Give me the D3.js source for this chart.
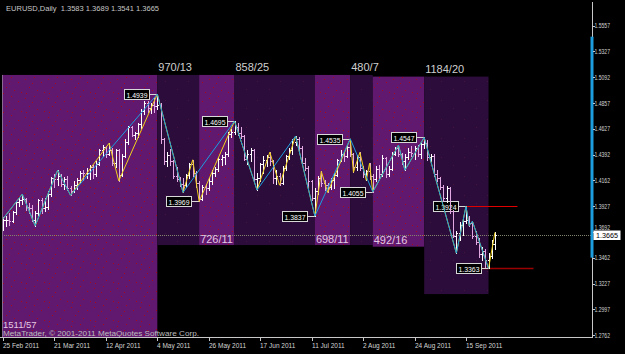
<!DOCTYPE html>
<html>
<head>
<meta charset="utf-8">
<script src="https://cdn.jsdelivr.net/npm/d3@7/dist/d3.min.js"></script>
<style>
  html, body { margin: 0; padding: 0; background: #000; }
  svg { display: block; }
  text { font-family: "Liberation Sans", Arial, sans-serif; }
</style>
</head>
<body>
<svg id="chart" width="625" height="354"></svg>
<script>
// daily bars EURUSD, 25 Feb 2011 onwards: open, high, low, close
var bars = [
  [1.3760,1.3830,1.3712,1.3800],[1.3800,1.3835,1.3745,1.3805],[1.3805,1.3860,1.3760,1.3795],[1.3795,1.3880,1.3780,1.3870],
  [1.3870,1.3975,1.3855,1.3960],[1.3960,1.4000,1.3925,1.3985],[1.3985,1.4035,1.3945,1.3990],[1.3990,1.4000,1.3895,1.3915],
  [1.3915,1.3955,1.3860,1.3910],[1.3910,1.3940,1.3790,1.3800],[1.3800,1.3880,1.3750,1.3860],[1.3860,1.3995,1.3850,1.3985],
  [1.3985,1.4000,1.3860,1.3910],[1.3910,1.4000,1.3880,1.3920],[1.3920,1.4060,1.3900,1.4040],[1.4040,1.4190,1.4020,1.4180],
  [1.4180,1.4215,1.4100,1.4170],[1.4170,1.4250,1.4120,1.4200],[1.4200,1.4215,1.4110,1.4130],[1.4130,1.4190,1.4080,1.4170],
  [1.4170,1.4200,1.4070,1.4090],[1.4090,1.4110,1.4025,1.4060],[1.4060,1.4150,1.4050,1.4120],[1.4120,1.4180,1.4080,1.4165],
  [1.4165,1.4240,1.4140,1.4230],[1.4230,1.4250,1.4160,1.4225],[1.4225,1.4270,1.4185,1.4230],[1.4230,1.4300,1.4170,1.4280],
  [1.4280,1.4300,1.4180,1.4220],[1.4220,1.4330,1.4200,1.4310],[1.4310,1.4440,1.4300,1.4430],[1.4430,1.4480,1.4380,1.4465],
  [1.4465,1.4470,1.4370,1.4400],[1.4400,1.4495,1.4390,1.4430],[1.4430,1.4450,1.4300,1.4320],[1.4320,1.4440,1.4280,1.4430],
  [1.4430,1.4440,1.4155,1.4210],[1.4210,1.4400,1.4200,1.4380],[1.4380,1.4530,1.4370,1.4510],[1.4510,1.4650,1.4490,1.4640],
  [1.4640,1.4650,1.4560,1.4570],[1.4570,1.4600,1.4530,1.4585],[1.4585,1.4680,1.4550,1.4665],[1.4665,1.4800,1.4630,1.4790],
  [1.4790,1.4880,1.4760,1.4860],[1.4860,1.4880,1.4780,1.4810],[1.4810,1.4860,1.4770,1.4840],[1.4840,1.4900,1.4780,1.4830],
  [1.4830,1.4939,1.4800,1.4840],[1.4840,1.4860,1.4500,1.4530],[1.4530,1.4545,1.4310,1.4330],[1.4330,1.4420,1.4290,1.4390],
  [1.4390,1.4440,1.4300,1.4330],[1.4330,1.4340,1.4180,1.4200],[1.4200,1.4280,1.4150,1.4170],[1.4170,1.4190,1.4110,1.4130],
  [1.4130,1.4180,1.4050,1.4120],[1.4120,1.4220,1.4100,1.4210],[1.4210,1.4320,1.4180,1.4310],[1.4310,1.4345,1.4200,1.4230],
  [1.4230,1.4240,1.4100,1.4140],[1.4140,1.4150,1.3969,1.3990],[1.3990,1.4120,1.3980,1.4100],[1.4100,1.4130,1.4040,1.4090],
  [1.4090,1.4180,1.4070,1.4150],[1.4150,1.4250,1.4130,1.4230],[1.4230,1.4280,1.4200,1.4260],[1.4260,1.4370,1.4240,1.4350],
  [1.4350,1.4390,1.4300,1.4370],[1.4370,1.4420,1.4310,1.4400],[1.4400,1.4600,1.4380,1.4580],[1.4580,1.4620,1.4550,1.4600],
  [1.4600,1.4695,1.4580,1.4640],[1.4640,1.4680,1.4570,1.4590],[1.4590,1.4640,1.4540,1.4560],[1.4560,1.4570,1.4340,1.4350],
  [1.4350,1.4430,1.4310,1.4400],[1.4400,1.4450,1.4330,1.4430],[1.4430,1.4440,1.4150,1.4170],[1.4170,1.4230,1.4072,1.4180],
  [1.4180,1.4320,1.4150,1.4310],[1.4310,1.4380,1.4230,1.4340],[1.4340,1.4390,1.4290,1.4370],[1.4370,1.4414,1.4300,1.4330],
  [1.4330,1.4340,1.4140,1.4180],[1.4180,1.4250,1.4130,1.4200],[1.4200,1.4230,1.4116,1.4140],[1.4140,1.4290,1.4130,1.4270],
  [1.4270,1.4390,1.4250,1.4380],[1.4380,1.4450,1.4350,1.4430],[1.4430,1.4530,1.4400,1.4510],[1.4510,1.4560,1.4480,1.4530],
  [1.4530,1.4550,1.4430,1.4450],[1.4450,1.4470,1.4300,1.4320],[1.4320,1.4360,1.4250,1.4270],[1.4270,1.4290,1.4100,1.4150],
  [1.4150,1.4160,1.3980,1.4000],[1.4000,1.4090,1.3837,1.4060],[1.4060,1.4200,1.4040,1.4180],[1.4180,1.4240,1.4110,1.4140],
  [1.4140,1.4160,1.4070,1.4120],[1.4120,1.4140,1.4050,1.4100],[1.4100,1.4180,1.4080,1.4160],[1.4160,1.4230,1.4090,1.4210],
  [1.4210,1.4350,1.4200,1.4340],[1.4340,1.4430,1.4330,1.4400],[1.4400,1.4420,1.4330,1.4380],[1.4380,1.4480,1.4370,1.4460],
  [1.4460,1.4535,1.4380,1.4400],[1.4400,1.4410,1.4232,1.4280],[1.4280,1.4390,1.4250,1.4370],[1.4370,1.4413,1.4250,1.4270],
  [1.4270,1.4290,1.4190,1.4220],[1.4220,1.4250,1.4160,1.4240],[1.4240,1.4314,1.4170,1.4200],[1.4200,1.4220,1.4055,1.4170],
  [1.4170,1.4290,1.4150,1.4260],[1.4260,1.4300,1.4180,1.4220],[1.4220,1.4390,1.4200,1.4360],[1.4360,1.4370,1.4190,1.4220],
  [1.4220,1.4290,1.4200,1.4260],[1.4260,1.4420,1.4250,1.4400],[1.4400,1.4460,1.4390,1.4450],[1.4450,1.4478,1.4380,1.4400],
  [1.4400,1.4410,1.4310,1.4330],[1.4330,1.4400,1.4252,1.4370],[1.4370,1.4450,1.4350,1.4420],[1.4420,1.4470,1.4380,1.4410],
  [1.4410,1.4470,1.4350,1.4450],[1.4450,1.4480,1.4380,1.4400],[1.4400,1.4500,1.4360,1.4490],[1.4490,1.4547,1.4450,1.4500],
  [1.4500,1.4520,1.4340,1.4370],[1.4370,1.4400,1.4330,1.4380],[1.4380,1.4400,1.4200,1.4220],[1.4220,1.4250,1.4150,1.4180],
  [1.4180,1.4190,1.4080,1.4100],[1.4100,1.4120,1.3970,1.4000],[1.4000,1.4110,1.3960,1.4090],[1.4090,1.4100,1.3860,1.3880],
  [1.3880,1.3890,1.3650,1.3660],[1.3660,1.3700,1.3502,1.3680],[1.3680,1.3780,1.3620,1.3760],[1.3760,1.3820,1.3670,1.3790],
  [1.3790,1.3924,1.3770,1.3800],[1.3800,1.3840,1.3750,1.3770],[1.3770,1.3790,1.3640,1.3660],[1.3660,1.3700,1.3580,1.3600],
  [1.3600,1.3640,1.3470,1.3490],[1.3490,1.3560,1.3440,1.3520],[1.3520,1.3540,1.3380,1.3440],[1.3440,1.3500,1.3363,1.3480],
  [1.3480,1.3620,1.3460,1.3583],[1.3583,1.3689,1.3541,1.3665]
];

// zigzag pivots: [bar index, price]
var majorZigzag = [[0,1.3812],[6,1.4035],[10,1.3750],[17,1.4250],[21,1.4025],[48,1.4939],[56,1.4050],[72,1.4695],
  [79,1.4072],[91,1.4560],[97,1.3837],[108,1.4535],[115,1.4055],[123,1.4478],[125,1.4252],[131,1.4547],
  [141,1.3502],[144,1.3924],[145,1.3750],[146,1.3790],[151,1.3363]];
var minorZigzag = [[0,1.3812],[6,1.4035],[10,1.3750],[17,1.4250],[21,1.4025],[33,1.4495],[36,1.4155],[48,1.4939],
  [56,1.4050],[59,1.4345],[61,1.3969],[72,1.4695],[79,1.4072],[83,1.4414],[86,1.4116],[91,1.4560],[97,1.3837],
  [99,1.4240],[101,1.4050],[108,1.4535],[109,1.4232],[111,1.4413],[113,1.4160],[114,1.4314],[115,1.4055],
  [123,1.4478],[125,1.4252],[131,1.4547],[141,1.3502],[144,1.3924],[145,1.3750],[146,1.3790],[151,1.3363],[153,1.3689]];

// swing price tags
var tagIndex = [48, 61, 72, 97, 108, 115, 131, 144, 151];
var tagPrice = [1.4939, 1.3969, 1.4695, 1.3837, 1.4535, 1.4055, 1.4547, 1.3924, 1.3363];

// wave boxes (bar index from/to, price top/bottom, label)
var waveFrom   = [-9, 48, 61, 72, 97, 108, 115, 131];
var waveTo     = [48, 61, 72, 97, 108, 115, 131, 151];
var waveTop    = [1.5112, 1.5112, 1.5112, 1.5112, 1.5112, 1.5112, 1.5097, 1.5097];
var waveBottom = [1.2700, 1.3575, 1.3575, 1.3575, 1.3575, 1.3575, 1.3560, 1.3132];
var waveText   = ["1511/57", "970/13", "726/11", "858/25", "698/11", "480/7", "492/16", "1184/20"];

// level lines [from bar, to bar, price]
var levels = [[144, 160, 1.3924], [149, 165, 1.3363]];
var bidPrice = 1.3665;
var rangeBar = [1.5458, 1.3461];

var priceTicks = [1.5557, 1.5327, 1.5092, 1.4857, 1.4627, 1.4392, 1.4162, 1.3927, 1.3692, 1.3462, 1.3227, 1.2997, 1.2762];
var dateTickIndex = [0, 16, 32, 48, 64, 80, 96, 112, 128, 144];
var dateTickText = ["25 Feb 2011", "21 Mar 2011", "12 Apr 2011", "4 May 2011", "26 May 2011",
  "17 Jun 2011", "11 Jul 2011", "2 Aug 2011", "24 Aug 2011", "15 Sep 2011"];

var svg = d3.select("#chart"),
    plotLeft = 2, plotRight = 592, plotTop = 2, plotBottom = 337;

var x = d3.scaleLinear().domain([0, 144]).range([3, 466]);
var y = d3.scaleLinear().domain([1.2762, 1.5557]).range([335, 25.7]);

svg.append("rect").attr("width", 625).attr("height", 354).attr("fill", "#000");

var defs = svg.append("defs");
defs.append("clipPath").attr("id", "plot")
  .append("rect").attr("x", plotLeft).attr("y", plotTop)
  .attr("width", plotRight - plotLeft).attr("height", plotBottom - plotTop);

// dotted fills like the original
var pBright = defs.append("pattern").attr("id", "bright").attr("patternUnits", "userSpaceOnUse")
  .attr("width", 23).attr("height", 19);
pBright.append("rect").attr("width", 23).attr("height", 19).attr("fill", "#60196e");
[[2,3],[11,1],[18,6],[6,11],[14,14],[21,16],[9,7],[3,17]].forEach(function(p) {
  pBright.append("rect").attr("x", p[0]).attr("y", p[1]).attr("width", 1).attr("height", 1).attr("fill", "#a80c1c");
});
var pDark = defs.append("pattern").attr("id", "dark").attr("patternUnits", "userSpaceOnUse")
  .attr("width", 23).attr("height", 19);
pDark.append("rect").attr("width", 23).attr("height", 19).attr("fill", "#2c0c3a");
[[4,5],[16,13]].forEach(function(p) {
  pDark.append("rect").attr("x", p[0]).attr("y", p[1]).attr("width", 1).attr("height", 1).attr("fill", "#46123e");
});

var plot = svg.append("g").attr("clip-path", "url(#plot)");

plot.selectAll(".wave")
  .data(waveText)
  .enter().append("rect")
    .attr("class", "wave")
    .attr("x", function(d, i) { return x(waveFrom[i]); })
    .attr("y", function(d, i) { return y(waveTop[i]); })
    .attr("width", function(d, i) { return x(waveTo[i]) - x(waveFrom[i]); })
    .attr("height", function(d, i) { return y(waveBottom[i]) - y(waveTop[i]); })
    .attr("fill", function(d, i) { return i % 2 === 0 ? "url(#bright)" : "url(#dark)"; });

// left edge of chart window
svg.append("line").attr("x1", 2.5).attr("x2", 2.5).attr("y1", y(waveTop[0])).attr("y2", plotBottom)
  .attr("stroke", "#8a6a92").attr("stroke-width", 1);

// bid line
plot.append("line")
  .attr("x1", 0).attr("x2", plotRight)
  .attr("y1", Math.round(y(bidPrice)) + 0.5).attr("y2", Math.round(y(bidPrice)) + 0.5)
  .attr("stroke", "#84846e").attr("stroke-dasharray", "1,1");

// level lines
plot.selectAll(".level")
  .data(levels)
  .enter().append("line")
    .attr("class", "level")
    .attr("x1", function(d) { return x(d[0]); })
    .attr("x2", function(d) { return x(d[1]); })
    .attr("y1", function(d) { return Math.round(y(d[2])) + 0.5; })
    .attr("y2", function(d) { return Math.round(y(d[2])) + 0.5; })
    .attr("stroke", function(d, i) { return i === 0 ? "#e00000" : "#9a0000"; })
    .attr("stroke-width", function(d, i) { return i === 0 ? 1 : 1.6; });

// price tags (under the bars, as in the terminal)
var tags = plot.selectAll(".tag")
  .data(tagIndex)
  .enter().append("g")
    .attr("class", "tag");
tags.append("line")
  .attr("x1", function(d) { return x(d) - 8; })
  .attr("x2", function(d) { return x(d); })
  .attr("y1", function(d, i) { return Math.round(y(tagPrice[i])) + 0.5; })
  .attr("y2", function(d, i) { return Math.round(y(tagPrice[i])) + 0.5; })
  .attr("stroke", "#d8d8d8");
tags.append("rect")
  .attr("x", function(d) { return Math.round(x(d) - 33) + 0.5; })
  .attr("y", function(d, i) { return Math.round(y(tagPrice[i]) - 5) + 0.5; })
  .attr("width", 25).attr("height", 10)
  .attr("fill", "#000").attr("stroke", "#d8d8d8");
tags.append("text")
  .attr("x", function(d) { return Math.round(x(d) - 33) + 13; })
  .attr("y", function(d, i) { return Math.round(y(tagPrice[i])) + 3.5; })
  .attr("text-anchor", "middle")
  .attr("font-size", "8px")
  .attr("textLength", 21).attr("lengthAdjust", "spacingAndGlyphs")
  .attr("fill", "#ffffff")
  .text(function(d, i) { return tagPrice[i].toFixed(4); });

// OHLC bars
var barG = plot.selectAll(".bar")
  .data(bars)
  .enter().append("g")
    .attr("class", "bar")
    .attr("stroke", function(d) { return d[3] >= d[0] ? "#ffffff" : "#e2a8e2"; })
    .attr("stroke-width", 1);
barG.append("line")
  .attr("x1", function(d, i) { return Math.round(x(i)) + 0.5; })
  .attr("x2", function(d, i) { return Math.round(x(i)) + 0.5; })
  .attr("y1", function(d) { return Math.round(y(d[1])); })
  .attr("y2", function(d) { return Math.round(y(d[2])) + 1; });
barG.append("line")
  .attr("x1", function(d, i) { return Math.round(x(i)) - 1; })
  .attr("x2", function(d, i) { return Math.round(x(i)); })
  .attr("y1", function(d) { return Math.round(y(d[0])) + 0.5; })
  .attr("y2", function(d) { return Math.round(y(d[0])) + 0.5; });
barG.append("line")
  .attr("x1", function(d, i) { return Math.round(x(i)) + 1; })
  .attr("x2", function(d, i) { return Math.round(x(i)) + 2; })
  .attr("y1", function(d) { return Math.round(y(d[3])) + 0.5; })
  .attr("y2", function(d) { return Math.round(y(d[3])) + 0.5; });

var zz = d3.line()
  .x(function(d) { return x(d[0]); })
  .y(function(d) { return y(d[1]); });

plot.append("path").datum(minorZigzag)
  .attr("d", zz).attr("fill", "none").attr("stroke", "#f2d21c").attr("stroke-width", 1);
plot.append("path").datum(majorZigzag)
  .attr("d", zz).attr("fill", "none").attr("stroke", "#1c9ede").attr("stroke-width", 1);

// wave labels: dark boxes above, bright boxes below
svg.selectAll(".waveLabel")
  .data(waveText)
  .enter().append("text")
    .attr("class", "waveLabel")
    .attr("x", function(d, i) { return Math.max(x(waveFrom[i]) + 1, 3); })
    .attr("y", function(d, i) {
      if (i === 0) return 328;
      return i % 2 === 1 ? y(waveTop[i]) - 4 : y(waveBottom[i]) - 2.5;
    })
    .attr("font-size", function(d, i) { return i === 0 ? "9.5px" : "11px"; })
    .attr("fill", function(d, i) { return i % 2 === 1 ? "#cfcfcf" : "#e4c8e4"; })
    .text(function(d) { return d; });

// header and copyright
svg.append("text").attr("x", 6).attr("y", 11)
  .attr("font-size", "8px").attr("fill", "#c8c8c8")
  .attr("textLength", 153).attr("lengthAdjust", "spacingAndGlyphs")
  .attr("xml:space", "preserve")
  .text("EURUSD,Daily  1.3583 1.3689 1.3541 1.3665");
svg.append("text").attr("x", 3).attr("y", 336.3)
  .attr("font-size", "7.5px").attr("fill", "#bdbdbd")
  .attr("textLength", 196).attr("lengthAdjust", "spacingAndGlyphs")
  .text("MetaTrader, \u00a9 2001-2011 MetaQuotes Software Corp.");

// axes frame
svg.append("line").attr("x1", 0).attr("x2", plotRight + 0.5).attr("y1", plotBottom + 0.5).attr("y2", plotBottom + 0.5)
  .attr("stroke", "#c8c8c8");
svg.append("line").attr("x1", plotRight + 0.5).attr("x2", plotRight + 0.5).attr("y1", plotTop).attr("y2", plotBottom + 1)
  .attr("stroke", "#c8c8c8");
svg.append("rect")
  .attr("x", plotRight - 1.5).attr("width", 3)
  .attr("y", y(rangeBar[0])).attr("height", y(rangeBar[1]) - y(rangeBar[0]))
  .attr("fill", "#1c9ede");

// price axis; the label next to the bid marker is nudged up just above it
var yAxis = svg.append("g");
yAxis.selectAll("line")
  .data(priceTicks)
  .enter().append("line")
    .attr("x1", plotRight + 1).attr("x2", plotRight + 3)
    .attr("y1", function(d) { return Math.round(y(d)) + 0.5; })
    .attr("y2", function(d) { return Math.round(y(d)) + 0.5; })
    .attr("stroke", "#c8c8c8");
yAxis.selectAll("text")
  .data(priceTicks)
  .enter().append("text")
    .attr("x", 594.5)
    .attr("y", function(d) {
      return Math.abs(y(d) - y(bidPrice)) < 8 ? Math.round(y(bidPrice)) - 5 : y(d) + 2.6;
    })
    .attr("font-size", "6.5px")
    .attr("textLength", 15.5).attr("lengthAdjust", "spacingAndGlyphs")
    .attr("fill", "#d4d4d4")
    .text(function(d) { return d.toFixed(4); });

// bid marker on the axis
svg.append("rect").attr("x", 593.5).attr("y", Math.round(y(bidPrice)) - 4.5)
  .attr("width", 27).attr("height", 9.5).attr("fill", "#ffffff");
svg.append("text").attr("x", 596).attr("y", y(bidPrice) + 3)
  .attr("font-size", "7.5px").attr("fill", "#000")
  .attr("textLength", 22).attr("lengthAdjust", "spacingAndGlyphs")
  .text(bidPrice.toFixed(4));

// date axis
var xAxis = svg.append("g");
xAxis.selectAll("line")
  .data(dateTickIndex)
  .enter().append("line")
    .attr("x1", function(d) { return Math.round(x(d)) + 0.5; })
    .attr("x2", function(d) { return Math.round(x(d)) + 0.5; })
    .attr("y1", plotBottom + 1).attr("y2", plotBottom + 4)
    .attr("stroke", "#c8c8c8");
xAxis.selectAll("text")
  .data(dateTickText)
  .enter().append("text")
    .attr("x", function(d, i) { return Math.round(x(dateTickIndex[i])); })
    .attr("y", 347.5)
    .attr("font-size", "6.5px")
    .attr("fill", "#d4d4d4")
    .text(function(d) { return d; });
</script>
</body>
</html>
